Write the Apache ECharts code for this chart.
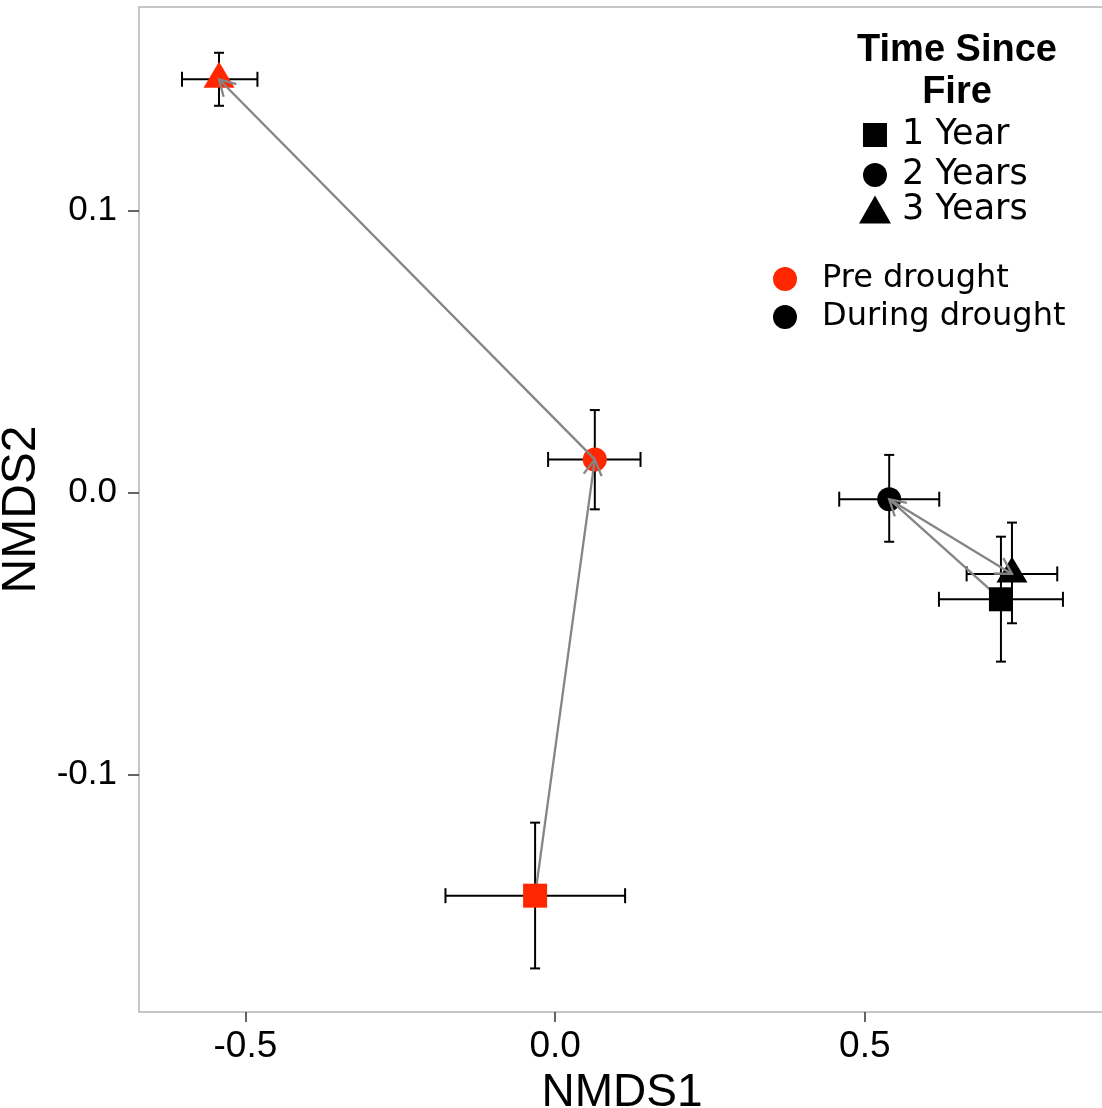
<!DOCTYPE html>
<html>
<head>
<meta charset="utf-8">
<script src="https://cdn.jsdelivr.net/npm/echarts@6/dist/echarts.min.js"></script>
<style>
html,body{margin:0;padding:0;background:#fff;}
#chart{width:1102px;height:1108px;}
</style>
</head>
<body>
<div id="chart"></div>
<script>
// ---- data (order: 1 Year, 2 Years, 3 Years) ----
const timeLabels = ['1 Year', '2 Years', '3 Years'];
const groupLabels = ['Pre drought', 'During drought'];

const preX   = [-0.0323, 0.0641, -0.5426];
const preY   = [-0.1429, 0.0118, 0.1466];
const preXLo = [-0.1770, -0.0113, -0.6024];
const preXHi = [0.1130, 0.1379, -0.4806];
const preYLo = [-0.1687, -0.0059, 0.1372];
const preYHi = [-0.1170, 0.0293, 0.1560];

const durX   = [0.7198, 0.5394, 0.7376];
const durY   = [-0.0378, -0.0023, -0.0288];
const durXLo = [0.6197, 0.4587, 0.6644];
const durXHi = [0.8199, 0.6202, 0.8107];
const durYLo = [-0.0599, -0.0174, -0.0463];
const durYHi = [-0.0156, 0.0134, -0.0106];

const xTicks = [-0.5, 0.0, 0.5];
const yTicks = [-0.1, 0.0, 0.1];

// ---- style ----
const RED = '#ff2600';
const BLACK = '#000000';
const groupColors = [RED, BLACK];

const groupsX = [preX, durX], groupsY = [preY, durY];
const groupsXLo = [preXLo, durXLo], groupsXHi = [preXHi, durXHi];
const groupsYLo = [preYLo, durYLo], groupsYHi = [preYHi, durYHi];

// error bar data
const errData = [];
for (let g = 0; g < 2; g++) {
  for (let t = 0; t < 3; t++) {
    errData.push([groupsX[g][t], groupsY[g][t], groupsXLo[g][t], groupsXHi[g][t], groupsYLo[g][t], groupsYHi[g][t]]);
  }
}
// arrow segments (1 -> 2 -> 3 years within each group)
const arrowData = [];
for (let g = 0; g < 2; g++) {
  for (let t = 0; t < 2; t++) {
    arrowData.push([groupsX[g][t], groupsY[g][t], groupsX[g][t + 1], groupsY[g][t + 1]]);
  }
}
function pointsFor(t) {
  const arr = [];
  for (let g = 0; g < 2; g++) {
    arr.push({ value: [groupsX[g][t], groupsY[g][t]], itemStyle: { color: groupColors[g] } });
  }
  return arr;
}

const chart = echarts.init(document.getElementById('chart'));
const AX_FONT = 'Liberation Sans, Arial, sans-serif';
const LEG_FONT = 'DejaVu Sans, sans-serif';

const option = {
  animation: false,
  backgroundColor: '#ffffff',
  grid: {
    left: 139, top: 7, right: -3, bottom: 96,
    containLabel: false, outerBoundsMode: 'none',
    show: true, borderColor: '#b4b4b4', borderWidth: 1.5, backgroundColor: '#ffffff'
  },
  xAxis: {
    type: 'value', min: -0.6718, max: 0.8878,
    name: 'NMDS1', nameLocation: 'middle', nameGap: 34,
    nameTextStyle: { fontFamily: AX_FONT, fontSize: 46, color: '#000' },
    axisLine: { show: false, onZero: false },
    splitLine: { show: false },
    axisTick: { show: true, customValues: xTicks, length: 10, lineStyle: { color: '#333', width: 1.5 } },
    axisLabel: { customValues: xTicks, margin: 16, fontFamily: AX_FONT, fontSize: 37, color: '#000',
      formatter: v => v.toFixed(1) }
  },
  yAxis: {
    type: 'value', min: -0.18415, max: 0.17223,
    name: 'NMDS2', nameLocation: 'middle', nameGap: 64,
    nameTextStyle: { fontFamily: AX_FONT, fontSize: 48, color: '#000' },
    axisLine: { show: false, onZero: false },
    splitLine: { show: false },
    axisTick: { show: true, customValues: yTicks, length: 11, lineStyle: { color: '#333', width: 1.5 } },
    axisLabel: { customValues: yTicks, margin: 22, fontFamily: AX_FONT, fontSize: 35, color: '#000',
      formatter: v => v.toFixed(1) }
  },
  legend: [
    {
      orient: 'vertical', left: 863, top: 117.5, padding: 0, itemWidth: 24, itemHeight: 24, itemGap: 5,
      selectedMode: false,
      data: [{ name: '1 Year', icon: 'rect' }, { name: '2 Years', icon: 'circle' }],
      textStyle: { fontFamily: LEG_FONT, fontSize: 35, color: '#000', padding: [0, 0, 0, 10] }
    },
    {
      orient: 'vertical', left: 859, top: 192, padding: 0, itemWidth: 32, itemHeight: 28,
      selectedMode: false,
      data: [{ name: '3 Years', icon: 'triangle' }],
      textStyle: { fontFamily: LEG_FONT, fontSize: 35, color: '#000', padding: [0, 0, 0, 6] }
    },
    {
      orient: 'vertical', left: 773, top: 263, padding: 0, itemWidth: 24, itemHeight: 24, itemGap: 6,
      selectedMode: false,
      data: [{ name: 'Pre drought', icon: 'circle' }, { name: 'During drought', icon: 'circle' }],
      textStyle: { fontFamily: LEG_FONT, fontSize: 32, color: '#000', padding: [0, 0, 0, 20] }
    }
  ],
  graphic: [
    {
      type: 'text', x: 957, y: 30, z: 100,
      style: {
        text: 'Time Since\nFire', textAlign: 'center', textVerticalAlign: 'top',
        font: 'bold 38px Liberation Sans, Arial, sans-serif', lineHeight: 42, fill: '#000'
      }
    }
  ],
  series: [
    {
      type: 'custom', name: 'errorbars', z: 1, silent: true,
      data: errData,
      encode: { x: [0, 2, 3], y: [1, 4, 5] },
      renderItem: function (params, api) {
        const x = api.value(0), y = api.value(1);
        const xl = api.value(2), xh = api.value(3), yl = api.value(4), yh = api.value(5);
        const a = api.coord([xl, y]), b = api.coord([xh, y]);
        const c = api.coord([x, yl]), d = api.coord([x, yh]);
        const st = { stroke: '#000', lineWidth: 2 };
        const hc = 7.5, vc = 5;
        return {
          type: 'group',
          children: [
            { type: 'line', shape: { x1: a[0], y1: a[1], x2: b[0], y2: b[1] }, style: st },
            { type: 'line', shape: { x1: a[0], y1: a[1] - hc, x2: a[0], y2: a[1] + hc }, style: st },
            { type: 'line', shape: { x1: b[0], y1: b[1] - hc, x2: b[0], y2: b[1] + hc }, style: st },
            { type: 'line', shape: { x1: c[0], y1: c[1], x2: d[0], y2: d[1] }, style: st },
            { type: 'line', shape: { x1: c[0] - vc, y1: c[1], x2: c[0] + vc, y2: c[1] }, style: st },
            { type: 'line', shape: { x1: d[0] - vc, y1: d[1], x2: d[0] + vc, y2: d[1] }, style: st }
          ]
        };
      }
    },
    {
      type: 'scatter', name: '2 Years', z: 2, symbol: 'circle', symbolSize: 24,
      itemStyle: { color: BLACK, opacity: 1 }, data: pointsFor(1)
    },
    {
      type: 'scatter', name: '3 Years', z: 2, symbol: 'triangle', symbolSize: [31, 26], symbolOffset: [0, -4.5],
      itemStyle: { color: BLACK, opacity: 1 }, data: pointsFor(2)
    },
    {
      type: 'custom', name: 'arrows', z: 3, silent: true,
      data: arrowData,
      encode: { x: [0, 2], y: [1, 3] },
      renderItem: function (params, api) {
        const p1 = api.coord([api.value(0), api.value(1)]);
        const p2 = api.coord([api.value(2), api.value(3)]);
        const ang = Math.atan2(p2[1] - p1[1], p2[0] - p1[0]);
        const L = 18, th = Math.PI / 6;
        const b1 = [p2[0] - L * Math.cos(ang - th), p2[1] - L * Math.sin(ang - th)];
        const b2 = [p2[0] - L * Math.cos(ang + th), p2[1] - L * Math.sin(ang + th)];
        const st = { stroke: '#858585', lineWidth: 2.3, fill: null };
        return {
          type: 'group',
          children: [
            { type: 'line', shape: { x1: p1[0], y1: p1[1], x2: p2[0], y2: p2[1] }, style: st },
            { type: 'polyline', shape: { points: [b1, p2, b2] }, style: st }
          ]
        };
      }
    },
    {
      type: 'scatter', name: '1 Year', z: 4, symbol: 'rect', symbolSize: 24,
      itemStyle: { color: BLACK, opacity: 1 }, data: pointsFor(0)
    },
    { type: 'scatter', name: 'Pre drought', symbol: 'circle', itemStyle: { color: RED, opacity: 1 }, data: [] },
    { type: 'scatter', name: 'During drought', symbol: 'circle', itemStyle: { color: BLACK, opacity: 1 }, data: [] }
  ]
};
chart.setOption(option);
</script>
</body>
</html>
